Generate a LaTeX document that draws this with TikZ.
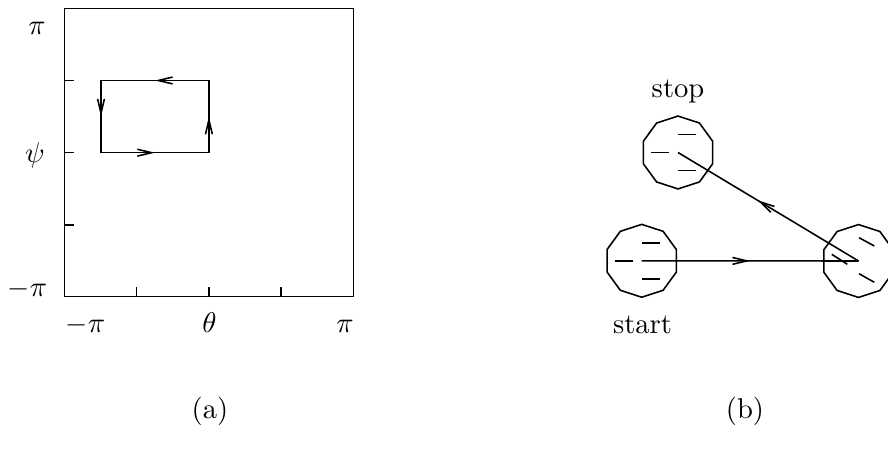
\documentclass[tikz,border=0pt]{standalone}
\usepackage{amsmath}
\usetikzlibrary{arrows.meta,shapes.geometric,decorations.markings}

\begin{document}
\begin{tikzpicture}[x=.35pt,y=-.35pt,line width=.55pt,
    mid/.style={postaction={decorate},decoration={markings,
      mark=at position #1 with {\arrow{Straight Barb[length=5pt,width=2.4pt]}}}},
    mid/.default=.5,
    body/.style={draw,regular polygon,regular polygon sides=10,
      shape border rotate=18,minimum size=25.5pt,inner sep=0pt}]
  \useasboundingbox (0,0) rectangle (888,451);

  % (a) the torus square
  \draw (64.5,8.3) rectangle (353.3,296.5);
  \foreach \x in {136.7,208.9,281.1}
    \draw (\x,296.5) -- ++(0,-9);
  \foreach \y in {80.5,152.7,224.9}
    \draw (64.5,\y) -- ++(9,0);

  \node[anchor=base] (psimax) at (37,35) {$\pi$};
  \node[anchor=base] (psi) at (35,163) {$\psi$};
  \node[anchor=base] (psimin) at (27.5,297) {$-\pi$};
  \node[anchor=base] (thmin) at (85.5,333) {$-\pi$};
  \node[anchor=base] (th) at (209.5,333) {$\theta$};
  \node[anchor=base] (thmax) at (345,333) {$\pi$};

  \coordinate (p1) at (101,152.7);
  \coordinate (p2) at (208.9,152.7);
  \coordinate (p3) at (208.9,80.5);
  \coordinate (p4) at (101,80.5);
  \draw[mid] (p1) -- (p2);
  \draw[mid] (p2) -- (p3);
  \draw[mid] (p3) -- (p4);
  \draw[mid] (p4) -- (p1);

  \node[anchor=base] (capa) at (210,418) {(a)};

  % (b) the body moves
  \node[body] (start) at (641.7,260.8) {};
  \node[body] (turn) at (858.5,261) {};
  \node[body] (stop) at (678,152.5) {};

  \foreach \b in {start,stop}
    \draw ([shift={(-27,0)}]\b.center) -- ++(18,0)
          ([shift={(0,-18)}]\b.center) -- ++(18,0)
          ([shift={(0,18)}]\b.center) -- ++(18,0);
  \draw ([shift={(0.5,-23.3)}]turn.center) -- ++(15.3,8.3)
        ([shift={(-26.8,-6.7)}]turn.center) -- ++(15.6,10)
        ([shift={(0.5,12.7)}]turn.center) -- ++(15.3,8.6);

  \draw[mid] (start.center) -- (turn.center);
  \draw[mid=.56] (turn.center) -- (stop.center);

  \node[anchor=base] (lstop) at (678,97.3) {stop};
  \node[anchor=base] (lstart) at (642.5,333.3) {start};

  \node[anchor=base] (capb) at (745,418) {(b)};
\end{tikzpicture}
\end{document}
